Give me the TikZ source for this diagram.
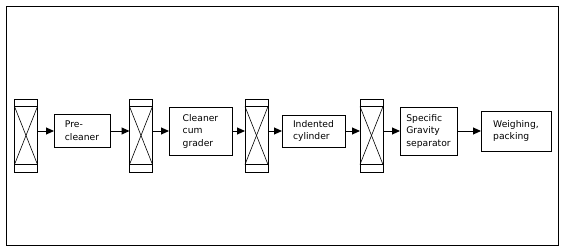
\documentclass[tikz,border=0pt]{standalone}
\usepackage{fontspec}
\setmainfont{DejaVu Sans}
\usetikzlibrary{arrows.meta}
\begin{document}
\begin{tikzpicture}[x=1pt,y=-1pt,
  every node/.style={inner sep=0pt,outer sep=0pt},
  proc/.style={draw,line width=1pt,align=left,font=\fontsize{9.2}{12.5}\selectfont},
  bin/.style={draw,line width=1pt,minimum width=23pt,minimum height=73pt},
  flow/.style={line width=1pt,-{Triangle[length=8pt,width=7pt]}}]
\useasboundingbox (0,0) rectangle (566,252);
\draw[line width=0.9pt] (6,6) rectangle (558,245);
% bins
\node[bin] (b1) at (26,135.5) {};
\node[bin] (b2) at (141,135.5) {};
\node[bin] (b3) at (256.5,135.5) {};
\node[bin] (b4) at (371.5,135.5) {};
\foreach \b in {b1,b2,b3,b4}{
  \draw[line width=1pt] ([yshift=-7.5pt]\b.north west) coordinate (\b tl) -- ([yshift=-7.5pt]\b.north east) coordinate (\b tr);
  \draw[line width=1pt] ([yshift=7.5pt]\b.south west) coordinate (\b bl) -- ([yshift=7.5pt]\b.south east) coordinate (\b br);
  \draw[line width=0.6pt] (\b tl) -- (\b br);
  \draw[line width=0.6pt] (\b tr) -- (\b bl);
}
% process boxes
\node[proc,minimum width=56pt,minimum height=33pt] (p1) at (82,130.5) {Pre-\\cleaner};
\node[proc,minimum width=63pt,minimum height=48pt] (p2) at (200.5,131) {Cleaner\\cum\\grader};
\node[proc,minimum width=63pt,minimum height=32pt] (p3) at (313.5,131) {Indented\\cylinder};
\node[proc,minimum width=57pt,minimum height=48pt] (p4) at (428.5,131) {Specific\\Gravity\\separator};
\node[proc,minimum width=70pt,minimum height=40pt] (p5) at (516,131) {Weighing,\\packing};
% arrows
\draw[flow] (b1.east |- 0,131) -- (p1.west |- 0,131);
\draw[flow] (p1.east |- 0,131) -- (b2.west |- 0,131);
\draw[flow] (b2.east |- 0,131) -- (p2.west |- 0,131);
\draw[flow] (p2.east |- 0,131) -- (b3.west |- 0,131);
\draw[flow] (b3.east |- 0,131) -- (p3.west |- 0,131);
\draw[flow] (p3.east |- 0,131) -- (b4.west |- 0,131);
\draw[flow] (b4.east |- 0,131) -- (p4.west |- 0,131);
\draw[flow] (p4.east |- 0,131) -- (p5.west |- 0,131);
\end{tikzpicture}
\end{document}
